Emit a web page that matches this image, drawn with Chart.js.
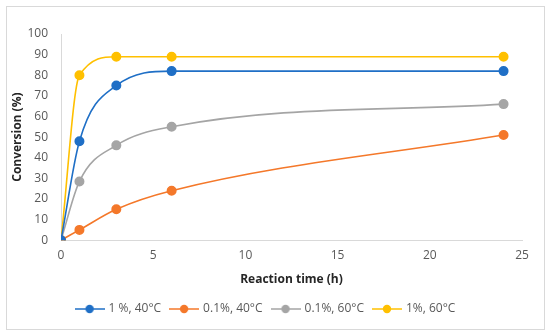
<!DOCTYPE html>
<html>
<head>
<meta charset="utf-8">
<script src="https://cdn.jsdelivr.net/npm/chart.js@4/dist/chart.umd.min.js"></script>
<style>
  body { margin: 0; background: #fff; }
  #frame { position: absolute; left: 6px; top: 6px; width: 537px; height: 322px; border: 1px solid #d9d9d9; }
  #wrap { position: absolute; left: 0; top: 0; width: 550px; height: 334px; }
</style>
</head>
<body>
<div id="frame"></div>
<div id="wrap"><canvas id="chart" width="550" height="334"></canvas></div>
<script>
// 反応時間 (h)
const reactionTime = [0, 1, 3, 6, 24];

// 各条件の転化率 (%)
const conv1pct40 = [0, 48, 75, 82, 82];
const conv01pct40 = [0, 5, 15, 24, 51];
const conv01pct60 = [0, 28.5, 46, 55, 66];
const conv1pct60 = [0, 80, 89, 89, 89];

const seriesLabels = ['1 %, 40°C', '0.1%, 40°C', '0.1%, 60°C', '1%, 60°C'];
const seriesValues = [conv1pct40, conv01pct40, conv01pct60, conv1pct60];
const seriesColors = ['#1f6fc6', '#f4782a', '#a5a5a5', '#ffc000'];

const xTicks = [0, 5, 10, 15, 20, 25];
const yTicks = [0, 10, 20, 30, 40, 50, 60, 70, 80, 90, 100];

// 凡例用のマーカー（線＋丸）
function legendMarker(color) {
    const c = document.createElement('canvas');
    c.width = 30;
    c.height = 10;
    const ctx = c.getContext('2d');
    ctx.strokeStyle = color;
    ctx.lineWidth = 1.5;
    ctx.beginPath();
    ctx.moveTo(0, 5);
    ctx.lineTo(30, 5);
    ctx.stroke();
    ctx.fillStyle = color;
    ctx.beginPath();
    ctx.arc(15, 5, 4.2, 0, Math.PI * 2);
    ctx.fill();
    return c;
}

const datasets = seriesLabels.map((label, i) => ({
    label: label,
    data: reactionTime.map((t, j) => ({ x: t, y: seriesValues[i][j] })),
    borderColor: seriesColors[i],
    backgroundColor: seriesColors[i],
    borderWidth: 1.6,
    pointRadius: 4.2,
    pointHoverRadius: 4.2,
    showLine: true,
    cubicInterpolationMode: 'monotone',
    fill: false,
}));

const fontFamily = "'Open Sans', 'Liberation Sans', sans-serif";

new Chart(document.getElementById('chart').getContext('2d'), {
    type: 'scatter',
    data: { datasets: datasets },
    options: {
        responsive: false,
        animation: false,
        layout: { padding: { left: 10, right: 28, top: 34, bottom: 9 } },
        plugins: {
            legend: {
                position: 'bottom',
                labels: {
                    usePointStyle: true,
                    pointStyleWidth: 26,
                    padding: 10,
                    color: '#595959',
                    font: { family: fontFamily, size: 12 },
                    generateLabels: (chart) => chart.data.datasets.map((ds, i) => ({
                        text: ds.label,
                        pointStyle: legendMarker(seriesColors[i]),
                        fillStyle: seriesColors[i],
                        strokeStyle: seriesColors[i],
                        lineWidth: 0,
                        fontColor: '#595959',
                        datasetIndex: i,
                    }))
                }
            },
            tooltip: { enabled: false }
        },
        scales: {
            x: {
                type: 'linear',
                min: 0,
                max: 25,
                afterBuildTicks: (axis) => { axis.ticks = xTicks.map(v => ({ value: v })); },
                grid: { display: false, drawTicks: false },
                border: { display: true, color: '#d9d9d9', width: 1 },
                ticks: { color: '#595959', font: { family: fontFamily, size: 12 }, padding: 8 },
                title: {
                    display: true,
                    text: 'Reaction time (h)',
                    color: '#262626',
                    font: { family: fontFamily, size: 12, weight: 'bold' },
                    padding: { top: 2, bottom: 6 }
                }
            },
            y: {
                min: 0,
                max: 100,
                afterBuildTicks: (axis) => { axis.ticks = yTicks.map(v => ({ value: v })); },
                afterFit: (axis) => { axis.width = 51; },
                grid: { display: false, drawTicks: false },
                border: { display: true, color: '#d9d9d9', width: 1 },
                ticks: { color: '#595959', font: { family: fontFamily, size: 12 }, padding: 13 },
                title: {
                    display: true,
                    text: 'Conversion (%)',
                    color: '#262626',
                    font: { family: fontFamily, size: 12, weight: 'bold' },
                    padding: { top: 0, bottom: 0 }
                }
            }
        }
    }
});
</script>
</body>
</html>
